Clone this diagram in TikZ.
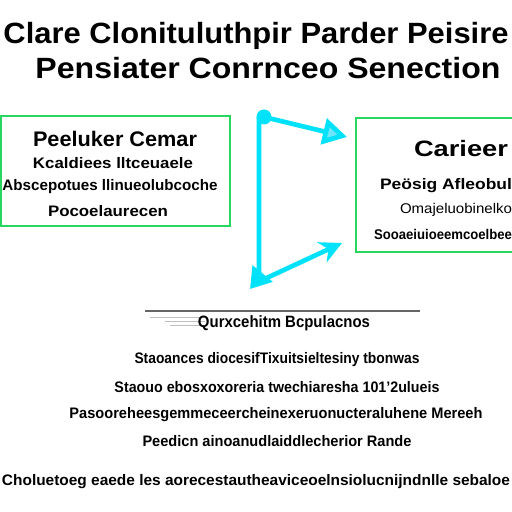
\documentclass[tikz,border=0pt]{standalone}
\usepackage{fontspec}
\setmainfont{Liberation Sans}
\usepackage{graphicx}
\usetikzlibrary{arrows.meta}
\definecolor{boxgreen}{RGB}{40,215,95}
\definecolor{linkcyan}{RGB}{0,225,250}
\definecolor{linkpale}{RGB}{110,230,250}
\newlength\unitpx
\setlength\unitpx{0.03cm}
\newcommand\fitw[2]{\resizebox{#1\unitpx}{\height}{#2}}
\tikzset{
  txt/.style={inner sep=0pt, anchor=center},
  cardbox/.style={draw=boxgreen, line width=2pt},
  link/.style={draw=linkcyan, line width=4pt},
}
\begin{document}
\begin{tikzpicture}[x=0.03cm, y=-0.03cm]
  \useasboundingbox[fill=white] (0,0) rectangle (512,512); %
  % title
  \node[txt, font=\bfseries\fontsize{25}{27}\selectfont] (title1) at (256,36)
    {\fitw{505}{Clare Clonituluthpir Parder Peisire}}; %
  \node[txt, font=\bfseries\fontsize{25}{27}\selectfont] (title2) at (268,68)
    {\fitw{465}{Pensiater Conrnceo Senection}}; %
  % left card
  \draw[cardbox] (1,116) rectangle (230,226); %
  \node[txt, font=\bfseries\fontsize{18}{20}\selectfont] (lhead) at (115,139)
    {\fitw{164}{Peeluker Cemar}}; %
  \node[txt, font=\bfseries\fontsize{13}{15}\selectfont] (lline1) at (113,163)
    {\fitw{160}{Kcaldiees lltceuaele}}; %
  \node[txt, font=\bfseries\fontsize{13}{15}\selectfont] (lline2) at (110,187)
    {\fitw{215}{Abscepotues llinueolubcoche}}; %
  \node[txt, font=\bfseries\fontsize{13}{15}\selectfont] (lline3) at (108,211)
    {\fitw{120}{Pocoelaurecen}}; %
  % right card
  \draw[cardbox] (356,118) rectangle (520,252); %
  \node[txt, font=\bfseries\fontsize{19}{21}\selectfont] (rhead) at (461,149)
    {\fitw{94}{Carieer}}; %
  \node[txt, font=\bfseries\fontsize{13}{15}\selectfont] (rline1) at (446,186)
    {\fitw{132}{Peösig Afleobul}}; %
  \node[txt, font=\fontsize{12}{14}\selectfont] (rline2) at (456,210)
    {\fitw{112}{Omajeluobinelko}}; %
  \node[txt, font=\bfseries\fontsize{12}{14}\selectfont] (rline3) at (443,234)
    {\fitw{138}{Sooaeiuioeemcoelbee}}; %
  % cyan connector
  \node[circle, fill=linkcyan, inner sep=0pt, minimum size=0.45cm] (knob) at (264,117) {}; %
  \coordinate (corner) at (250,289); %
  \coordinate (topend) at (347,137); %
  \coordinate (lowend) at (342,243); %
  \draw[link, -{Triangle[length=0.72cm, width=0.78cm, fill=linkpale]}] (knob.center) -- (topend); %
  \draw[link, -{Triangle[length=0.6cm, width=0.75cm]}] (259,117) -- (259,278) -- (corner); %
  \draw[link, -{Stealth[length=0.66cm, width=0.66cm]}] (258,282) -- (lowend); %
  % lower section
  \draw[gray!80!black, line width=1.6pt] (145,311) -- (420,311); %
  \draw[gray!50, line width=0.8pt] (150,317) -- (205,317) (165,321) -- (205,321) (170,325) -- (205,325); %
  \node[txt, font=\bfseries\fontsize{14}{16}\selectfont] (qhead) at (284,323)
    {\fitw{172}{Qurxcehitm Bcpulacnos}}; %
  \node[txt, font=\bfseries\fontsize{13}{15}\selectfont] (qline1) at (277,360)
    {\fitw{285}{Staoances diocesifTixuitsieltesiny tbonwas}}; %
  \node[txt, font=\bfseries\fontsize{13}{15}\selectfont] (qline2) at (277,387)
    {\fitw{325}{Staouo ebosxoxoreria twechiaresha 101'2ulueis}}; %
  \node[txt, font=\bfseries\fontsize{13}{15}\selectfont] (qline3) at (276,415)
    {\fitw{413}{Pasooreheesgemmeceercheinexeruonucteraluhene Mereeh}}; %
  \node[txt, font=\bfseries\fontsize{13}{15}\selectfont] (qline4) at (277,441)
    {\fitw{269}{Peedicn ainoanudlaiddlecherior Rande}}; %
  \node[txt, font=\bfseries\fontsize{13}{15}\selectfont] (qline5) at (256,482)
    {\fitw{508}{Choluetoeg eaede les aorecestautheaviceoelnsiolucnijndnlle sebaloe}}; %
\end{tikzpicture}
\end{document}
